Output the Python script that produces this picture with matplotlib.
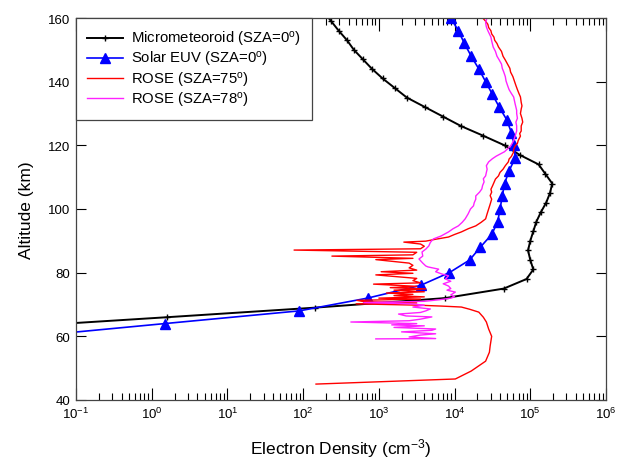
import numpy as np
import matplotlib
matplotlib.use("Agg")
import matplotlib.pyplot as plt
from matplotlib.ticker import LogLocator, FixedLocator, NullFormatter

plt.rcParams['font.family'] = ['Liberation Sans', 'DejaVu Sans']
plt.rcParams['mathtext.fontset'] = 'custom'
plt.rcParams['mathtext.rm'] = 'Liberation Sans'
plt.rcParams['mathtext.it'] = 'Liberation Sans:italic'
plt.rcParams['mathtext.bf'] = 'Liberation Sans:bold'

# ---------------- data (altitude km, log10 electron density cm^-3) -------------
micro_alt = [63, 66, 69, 72, 75, 78, 81, 84, 87, 90, 93, 96, 99, 102, 105, 108,
             111, 114, 117, 120, 123, 126, 129, 132, 135, 138, 141, 144, 147,
             150, 153, 156, 159, 162]
micro_log = [-1.8, 0.2, 2.15, 3.87, 4.65, 4.95, 5.04, 5.0, 4.97, 5.0, 5.04, 5.08,
             5.14, 5.21, 5.26, 5.29, 5.20, 5.11, 4.86, 4.66, 4.38, 4.09, 3.85,
             3.61, 3.37, 3.21, 3.05, 2.91, 2.79, 2.67, 2.58, 2.47, 2.37, 2.27]

euv_alt = [60, 64, 68, 72, 76, 80, 84, 88, 92, 96, 100, 104, 108, 112, 116, 120,
           124, 128, 132, 136, 140, 144, 148, 152, 156, 160]
euv_log = [-1.6, 0.17, 1.95, 2.85, 3.55, 3.93, 4.2, 4.34, 4.49, 4.57, 4.60, 4.63,
           4.66, 4.72, 4.80, 4.79, 4.75, 4.69, 4.59, 4.50, 4.41, 4.32, 4.22,
           4.13, 4.05, 3.95]

rose75_alt = [45.0, 46.6, 49.1, 52.2, 55.0, 57.0, 60.0, 62.3, 64.5, 66.0, 67.6,
              68.5, 69.2, 69.5, 69.8, 70.2, 70.5, 70.9, 71.3, 71.7, 72.0, 72.4,
              72.8, 73.2, 73.6, 74.0, 74.5, 74.9, 75.3, 75.7, 76.4, 76.8, 77.5,
              78.2, 79.3, 79.8, 80.3, 80.8, 81.5, 82.3, 83.0, 84.1, 84.5, 85.2,
              85.6, 86.4, 87.1, 87.5, 88.3, 89.0, 89.6, 89.9, 90.5, 91.2, 92.0,
              92.8, 93.8, 94.7, 95.8, 96.9, 98.5, 100.0, 101.5, 103.1, 104.2,
              105.3, 106.2, 107.2, 108.3, 109.4, 110.4, 111.5, 112.5, 113.6,
              114.8, 115.7, 116.5, 117.9, 118.8, 119.8, 120.6, 121.5, 122.9,
              123.7, 124.5, 126.1, 127.3, 128.5, 130.0, 131.4, 132.4, 133.5,
              135.2, 136.3, 137.5, 138.8, 140.2, 141.6, 143.0, 144.2, 145.5,
              146.8, 148.0, 149.5, 150.9, 152.0, 153.0, 154.0, 155.0, 156.0,
              157.0, 158.0, 159.0, 160.3]
rose75_log = [2.17, 4.01, 4.22, 4.41, 4.46, 4.47, 4.49, 4.45, 4.42, 4.38, 4.32,
              4.20, 4.09, 3.83, 3.50, 2.70, 3.50, 2.80, 2.71, 3.55, 3.00, 3.60,
              3.20, 3.45, 3.10, 3.60, 3.20, 3.62, 3.15, 3.50, 2.93, 3.55, 3.45,
              3.50, 2.96, 3.45, 3.03, 3.50, 3.40, 3.45, 3.40, 2.96, 3.45, 2.38,
              3.45, 3.50, 1.88, 3.55, 3.60, 3.55, 3.33, 3.62, 3.75, 3.92, 4.00,
              4.09, 4.18, 4.28, 4.35, 4.41, 4.43, 4.45, 4.47, 4.49, 4.47, 4.49,
              4.48, 4.50, 4.52, 4.54, 4.58, 4.60, 4.64, 4.67, 4.71, 4.72, 4.75,
              4.78, 4.78, 4.80, 4.83, 4.84, 4.87, 4.86, 4.88, 4.88, 4.90, 4.89,
              4.87, 4.88, 4.89, 4.88, 4.87, 4.85, 4.83, 4.81, 4.79, 4.77, 4.74,
              4.73, 4.70, 4.67, 4.64, 4.62, 4.58, 4.56, 4.53, 4.52, 4.49, 4.48,
              4.45, 4.44, 4.41, 4.36]

rose78_alt = [59.2, 59.3, 59.8, 60.4, 60.8, 61.4, 61.9, 62.3, 62.8, 63.3, 63.6,
              64.0, 64.5, 64.9, 65.4, 66.1, 66.4, 67.0, 67.5, 68.0, 68.6, 69.2,
              69.8, 70.2, 70.6, 71.0, 71.5, 72.0, 72.4, 73.0, 73.9, 74.5, 75.0,
              75.8, 76.5, 77.3, 78.0, 79.0, 79.6, 80.3, 81.1, 81.8, 82.1, 83.0,
              84.3, 85.2, 86.5, 87.4, 88.4, 89.5, 90.6, 91.5, 92.8, 93.8, 94.7,
              95.8, 96.9, 98.5, 100.0, 101.0, 102.0, 103.1, 104.1, 105.3, 106.3,
              107.4, 108.5, 109.5, 110.4, 111.5, 112.5, 113.6, 114.8, 115.8,
              116.6, 118.0, 119.8, 120.6, 121.5, 122.9, 124.5, 126.1, 127.3,
              128.5, 130.0, 131.0, 133.0, 135.2, 136.3, 137.5, 138.8, 140.2,
              141.6, 143.0, 144.2, 145.5, 146.8, 148.0, 149.5, 150.9, 152.8,
              154.0, 155.0, 156.0, 157.2, 158.5, 160.3]
rose78_log = [2.96, 3.75, 3.40, 3.55, 3.75, 3.30, 3.70, 3.75, 3.20, 3.60, 3.17,
              3.50, 2.63, 3.40, 3.55, 3.70, 3.36, 3.26, 3.55, 3.62, 3.68, 3.45,
              3.60, 3.43, 2.80, 3.60, 3.80, 3.95, 4.00, 3.95, 4.01, 3.90, 3.95,
              3.92, 3.85, 3.95, 3.88, 3.92, 3.83, 3.75, 3.79, 3.65, 3.62, 3.58,
              3.53, 3.58, 3.57, 3.62, 3.66, 3.68, 3.72, 3.82, 3.92, 3.98, 4.05,
              4.10, 4.14, 4.18, 4.21, 4.25, 4.26, 4.28, 4.28, 4.33, 4.36, 4.37,
              4.39, 4.38, 4.41, 4.42, 4.43, 4.42, 4.45, 4.50, 4.55, 4.66, 4.74,
              4.76, 4.78, 4.80, 4.82, 4.82, 4.81, 4.83, 4.82, 4.82, 4.80, 4.78,
              4.75, 4.72, 4.70, 4.68, 4.67, 4.65, 4.63, 4.62, 4.59, 4.56, 4.54,
              4.51, 4.49, 4.48, 4.46, 4.44, 4.42, 4.41, 4.43]

labels = ['Micrometeoroid (SZA=0$^{\\rm o}$)', 'Solar EUV (SZA=0$^{\\rm o}$)',
          'ROSE (SZA=75$^{\\rm o}$)', 'ROSE (SZA=78$^{\\rm o}$)']

# ---------------- figure ----------------
fig = plt.figure(figsize=(6.21, 4.60), dpi=100)
ax = fig.add_axes([76 / 621, 1 - 401 / 460, 530 / 621, 382 / 460])

ax.plot(10.0 ** np.array(micro_log), micro_alt, color='black', lw=1.4,
        marker='+', ms=5, mew=1.0, label=labels[0])
ax.plot(10.0 ** np.array(euv_log), euv_alt, color='#0000FF', lw=1.2,
        marker='^', ms=6.5, label=labels[1])
ax.plot(10.0 ** np.array(rose75_log), rose75_alt, color='#FF0000', lw=1.0,
        label=labels[2])
ax.plot(10.0 ** np.array(rose78_log), rose78_alt, color='#FF22FF', lw=1.0,
        label=labels[3])

ax.set_xscale('log')
ax.set_xlim(1e-1, 1e6)
ax.set_ylim(40, 160)
ax.yaxis.set_major_locator(FixedLocator([40, 60, 80, 100, 120, 140, 160]))
ax.xaxis.set_major_locator(LogLocator(base=10, numticks=20))
ax.xaxis.set_minor_locator(LogLocator(base=10, subs=np.arange(2, 10), numticks=20))
ax.xaxis.set_minor_formatter(NullFormatter())

ax.tick_params(axis='both', which='both', direction='in', top=True, right=True,
               labelsize=9.5, colors='black')
ax.tick_params(axis='x', which='major', length=9, width=0.8, pad=4)
ax.tick_params(axis='x', which='minor', length=5, width=0.8)
ax.tick_params(axis='y', which='major', length=7, width=0.8, pad=4)
for s in ax.spines.values():
    s.set_linewidth(0.9)
    s.set_color('#444444')

ax.set_xlabel('Electron Density (cm$^{-3}$)', fontsize=12.5, labelpad=11)
ax.set_ylabel('Altitude (km)', fontsize=12.5, labelpad=10)

leg = ax.legend(loc='upper left', borderaxespad=0, fancybox=False, fontsize=10.7,
                handlelength=2.4, labelspacing=0.08, borderpad=0.75,
                handletextpad=0.55, framealpha=1)
leg.get_frame().set_edgecolor('#444444')
leg.get_frame().set_linewidth(0.9)

fig.savefig('out.png', dpi=100)
